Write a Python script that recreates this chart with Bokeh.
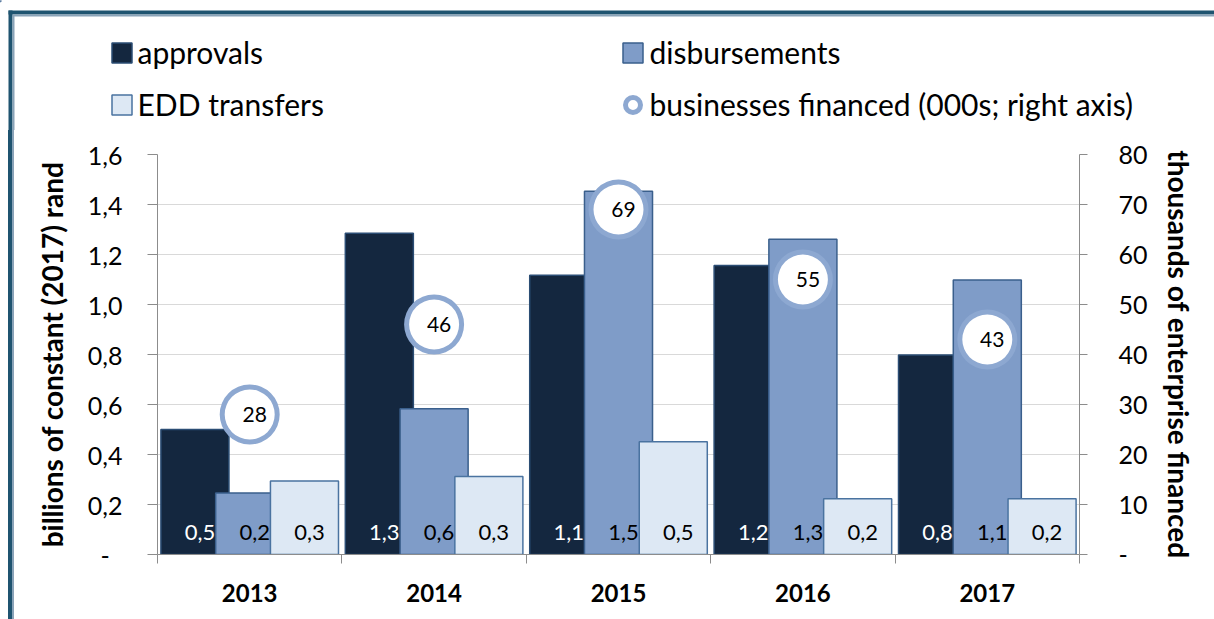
from bokeh.plotting import figure
from bokeh.layouts import column, row
from bokeh.models import (ColumnDataSource, Range1d, LinearAxis, FixedTicker, Legend, LegendItem,
                          Spacer)
from bokeh.transform import dodge
from bokeh.core.properties import value
from bokeh.embed import file_html
from bokeh.resources import INLINE

# ---- data ----
years = ["2013", "2014", "2015", "2016", "2017"]
approvals = [0.50, 1.285, 1.117, 1.156, 0.798]
disbursements = [0.246, 0.583, 1.453, 1.261, 1.098]
edd_transfers = [0.294, 0.3125, 0.451, 0.223, 0.223]
businesses = [28, 46, 69, 55, 43]
left_ticks = [0, 0.2, 0.4, 0.6, 0.8, 1.0, 1.2, 1.4, 1.6]
right_ticks = [0, 10, 20, 30, 40, 50, 60, 70, 80]
series_labels = ["approvals", "disbursements", "EDD transfers",
                 "businesses financed (000s; right axis)"]

FONT = "Lato"
C_APP, L_APP = "#14273f", "#2b4d74"
C_DISB, L_DISB = "#7f9cc8", "#3a5f8c"
C_EDD, L_EDD = "#dde8f4", "#4a73a0"
C_RING = "#8da8d1"
C_BORDER, C_BORDER2 = "#1f5470", "#8aa3b8"

def fmt(v):
    return f"{v:.1f}".replace(".", ",")

TOTAL_W, TOTAL_H = 1214, 619
TOP_H = 130        # legend strip height
BORDER_W = 14      # left strip width
MAIN_H = TOTAL_H - TOP_H

# ---------------- top strip: frame border + legend ----------------
top = figure(width=TOTAL_W, height=TOP_H, x_range=Range1d(0, TOTAL_W), y_range=Range1d(TOP_H, 0),
             output_backend="svg", toolbar_location=None,
             min_border=0, min_border_left=0, min_border_right=0, min_border_top=0,
             min_border_bottom=0)
top.axis.visible = False
top.grid.visible = False
top.outline_line_color = None
top.quad(left=[8, 12, 8, 12], right=[TOTAL_W, TOTAL_W, 12, 14], top=[10, 14, 10, 14],
         bottom=[14, 16, TOP_H, TOP_H], fill_color=[C_BORDER, C_BORDER2, C_BORDER, C_BORDER2],
         line_color=None)

# legend-only renderers (a single point far outside the visible range)
d_app = top.vbar(x=[-1000], top=[1], width=1, fill_color=C_APP, line_color=L_APP, line_width=1.5)
d_disb = top.vbar(x=[-1000], top=[1], width=1, fill_color=C_DISB, line_color=L_DISB, line_width=1.5)
d_edd = top.vbar(x=[-1000], top=[1], width=1, fill_color=C_EDD, line_color=L_EDD, line_width=1.5)
d_ring = top.annulus(x=[-1000], y=[-1000], inner_radius=25, outer_radius=30,
                     inner_radius_units="screen", outer_radius_units="screen",
                     fill_color=C_RING, line_color=None)

leg_style = dict(orientation="vertical", glyph_width=25, glyph_height=25, spacing=16,
                 padding=0, margin=0, border_line_color=None, background_fill_alpha=0,
                 label_text_font=FONT, label_text_font_size="30px", label_text_color="black")
leg1 = Legend(items=[LegendItem(label=series_labels[0], renderers=[d_app]),
                     LegendItem(label=series_labels[2], renderers=[d_edd])],
              location=(108.5, 8), label_standoff=4, **leg_style)
leg2 = Legend(items=[LegendItem(label=series_labels[1], renderers=[d_disb]),
                     LegendItem(label=series_labels[3], renderers=[d_ring])],
              location=(619.5, 8), label_standoff=5, **leg_style)
top.add_layout(leg1)
top.add_layout(leg2)

# ---------------- left strip: frame border ----------------
left = Spacer(width=BORDER_W, height=MAIN_H, styles={
    "background": f"linear-gradient(to right, #ffffff 0px, #ffffff 8px, {C_BORDER} 8px, "
                  f"{C_BORDER} 12px, {C_BORDER2} 12px, {C_BORDER2} 14px)"})

# ---------------- main chart ----------------
xs = [i + 0.5 for i in range(len(years))]
src = ColumnDataSource(dict(
    x=xs, year=years, app=approvals, disb=disbursements, edd=edd_transfers, biz=businesses,
    app_lbl=[fmt(v) for v in approvals], disb_lbl=[fmt(v) for v in disbursements],
    edd_lbl=[fmt(v) for v in edd_transfers], biz_lbl=[str(v) for v in businesses],
    zero=[0] * len(years),
))

p = figure(width=TOTAL_W - BORDER_W, height=MAIN_H, x_range=Range1d(0, len(years)),
           y_range=Range1d(0, 1.6), output_backend="svg", toolbar_location=None,
           min_border_left=157 - BORDER_W, min_border_right=TOTAL_W - 1079,
           min_border_top=154 - TOP_H, min_border_bottom=TOTAL_H - 554)
p.extra_y_ranges = {"right": Range1d(0, 80)}
p.outline_line_color = None

BW = 0.369
OFF = 0.297
p.vbar(x=dodge("x", -OFF), top="app", width=BW, source=src,
       fill_color=C_APP, line_color=L_APP, line_width=1.5)
p.vbar(x=dodge("x", 0.0), top="disb", width=BW, source=src,
       fill_color=C_DISB, line_color=L_DISB, line_width=1.5)
p.vbar(x=dodge("x", OFF), top="edd", width=BW, source=src,
       fill_color=C_EDD, line_color=L_EDD, line_width=1.5)

common = dict(y="zero", source=src, text_font=value(FONT), text_font_size="22px",
              text_align="center", text_baseline="middle", x_offset=5, y_offset=-22)
p.text(x=dodge("x", -OFF), text="app_lbl", text_color="white", **common)
p.text(x=dodge("x", 0.0), text="disb_lbl", text_color="black", **common)
p.text(x=dodge("x", OFF), text="edd_lbl", text_color="black", **common)

p.scatter(x="x", y="biz", source=src, y_range_name="right", marker="circle", size=52,
          fill_color="white", line_color=None)
p.annulus(x="x", y="biz", source=src, y_range_name="right",
          inner_radius=25, outer_radius=30, inner_radius_units="screen",
          outer_radius_units="screen", fill_color=C_RING, line_color=None)
p.text(x="x", y="biz", text="biz_lbl", source=src, y_range_name="right",
       text_font=value(FONT), text_font_size="21px", text_align="center",
       text_baseline="middle", x_offset=5, text_color="black")

AX = "#8c8c8c"
xa = p.xaxis[0]
xa.ticker = FixedTicker(ticks=xs, minor_ticks=list(range(len(years) + 1)))
xa.major_label_overrides = {x: y for x, y in zip(xs, years)}
xa.major_tick_out = 0
xa.major_tick_in = 0
xa.minor_tick_out = 9
xa.minor_tick_in = 0
xa.minor_tick_line_color = AX
xa.axis_line_color = AX
xa.major_label_text_font = FONT
xa.major_label_text_font_style = "bold"
xa.major_label_text_font_size = "24px"
xa.major_label_text_color = "black"
xa.major_label_standoff = 20

ya = p.yaxis[0]
ya.ticker = FixedTicker(ticks=left_ticks)
ya.major_label_overrides = {t: (fmt(t) if t != 0 else "-\u00a0\u00a0") for t in left_ticks}
ya.major_tick_out = 10
ya.major_tick_in = 0
ya.minor_tick_out = 0
ya.minor_tick_in = 0
ya.major_tick_line_color = AX
ya.axis_line_color = AX
ya.major_label_text_font = FONT
ya.major_label_text_font_size = "25px"
ya.major_label_text_color = "black"
ya.major_label_standoff = 25
ya.axis_label = "billions of constant (2017) rand"
ya.axis_label_text_font = FONT
ya.axis_label_text_font_style = "bold"
ya.axis_label_text_font_size = "28px"
ya.axis_label_text_color = "black"
ya.axis_label_standoff = 16

ra = LinearAxis(y_range_name="right", ticker=FixedTicker(ticks=right_ticks))
ra.major_label_overrides = {t: (str(t) if t != 0 else "-") for t in right_ticks}
ra.major_tick_out = 8
ra.major_tick_in = 0
ra.minor_tick_out = 0
ra.minor_tick_in = 0
ra.major_tick_line_color = AX
ra.axis_line_color = AX
ra.major_label_text_font = FONT
ra.major_label_text_font_size = "25px"
ra.major_label_text_color = "black"
ra.major_label_standoff = 31
ra.axis_label = "thousands of enterprise financed"
ra.axis_label_text_font = FONT
ra.axis_label_text_font_style = "bold"
ra.axis_label_text_font_size = "28px"
ra.axis_label_text_color = "black"
ra.axis_label_standoff = 11
p.add_layout(ra, "right")

p.xgrid.visible = False
p.ygrid.ticker = FixedTicker(ticks=left_ticks)
p.ygrid.grid_line_color = "#d9d9d9"
p.ygrid.grid_line_width = 1

layout = column(top, row(left, p, spacing=0), spacing=0)
open("out.html", "w").write(file_html(layout, INLINE))
